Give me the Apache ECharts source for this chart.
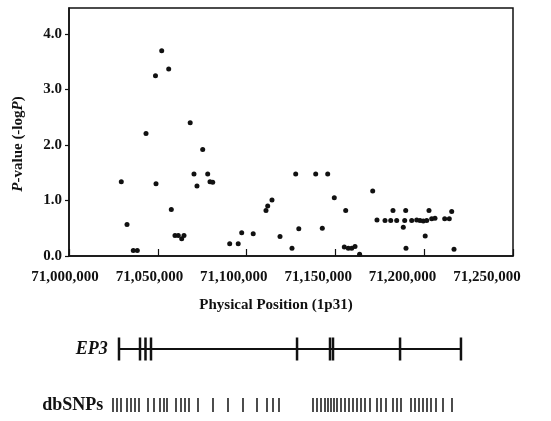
<!DOCTYPE html>
<html><head><meta charset="utf-8">
<script src="https://cdn.jsdelivr.net/npm/echarts@6/dist/echarts.min.js"></script>
<style>html,body{margin:0;padding:0;background:#fff}#c{width:551px;height:421px}</style>
</head><body><div id="c"></div>
<script>
// Physical positions (bp) of genotyped SNPs and their -log10(P)
const positions = [71029450,71032660,71036200,71038460,71043360,71048700,71052200,71048990,71056140,71057600,
  71059680,71061540,71063460,71064750,71068240,71070380,71072070,71075280,71078100,71079390,
  71080910,71090480,71095270,71097240,71103720,71110920,71111880,71114300,71118810,71125560,
  71127650,71129390,71138910,71142620,71145660,71149380,71155800,71155010,71157260,71159180,
  71161040,71163630,71171000,71173420,71177930,71181140,71182430,71184510,71188230,71189020,
  71189580,71189750,71192960,71195780,71197630,71199490,71200560,71201410,71202700,71204220,
  71206080,71211540,71214130,71215480,71216780];
const logP = [1.34,0.57,0.10,0.10,2.21,3.25,3.70,1.30,3.37,0.84,
  0.37,0.37,0.31,0.37,2.40,1.48,1.26,1.92,1.48,1.34,
  1.33,0.22,0.22,0.42,0.40,0.82,0.90,1.01,0.35,0.14,
  1.48,0.49,1.48,0.50,1.48,1.05,0.82,0.16,0.14,0.14,
  0.17,0.03,1.17,0.65,0.64,0.64,0.82,0.64,0.52,0.64,
  0.82,0.14,0.64,0.65,0.64,0.63,0.36,0.64,0.82,0.67,
  0.68,0.67,0.67,0.80,0.12];
// EP3 gene structure
const geneName = 'EP3';
const geneStart = 71028150, geneEnd = 71220700;
const exonPositions = [71028150,71039980,71043070,71046170,71128400,71146960,71148650,71186400,71220700];
// dbSNP positions
const snpLabel = 'dbSNPs';
const snpPositions = [71024775,71027027,71029279,71032657,71034910,71037162,71039414,
  71044482,71047860,71051238,71053491,71055180,71060247,71063063,71065315,71067567,
  71072635,71081081,71089527,71097972,71105855,71111486,71114864,71118242,
  71137387,71139639,71141891,71144144,71145833,71147522,71149211,71150900,
  71153153,71155405,71157657,71159909,71162161,71164414,71166666,71169481,
  71173422,71175675,71178490,71182431,71184684,71186936,
  71192567,71194819,71197071,71199323,71201575,71203828,71206643,71210584,71215652];
const xMin = 71000000, xMax = 71250000, xStep = 50000;
const yMin = 0, yMax = 4.47, yStep = 1;

const FONT = 'Liberation Serif';
const INK = '#111';
function commas(v){ return String(Math.round(v)).replace(/\B(?=(\d{3})+(?!\d))/g, ','); }

const chart = echarts.init(document.getElementById('c'), null, {renderer:'canvas'});
chart.setOption({
  animation: false,
  backgroundColor: '#fff',
  grid: [
    {left: 69, right: 38, top: 8, height: 248, show: true, borderColor: INK, borderWidth: 1.5},
    {left: 65, right: 64, top: 8, height: 248},
    {left: 69, right: 38, top: 349, height: 56}
  ],
  xAxis: [
    {gridIndex: 0, type: 'value', min: xMin, max: xMax, interval: xStep,
     axisLine: {show: true, lineStyle: {color: INK, width: 1.5}},
     axisTick: {show: true, inside: true, length: 7, lineStyle: {color: INK, width: 1.2}},
     axisLabel: {show: false}, splitLine: {show: false}},
    {gridIndex: 1, type: 'value', min: xMin, max: xMax, interval: xStep,
     axisLine: {show: false}, axisTick: {show: false}, splitLine: {show: false},
     axisLabel: {show: true, margin: 14, color: INK, fontFamily: FONT, fontWeight: 'bold', fontSize: 15,
                 formatter: commas},
     name: 'Physical Position (1p31)', nameLocation: 'middle', nameGap: 42,
     nameTextStyle: {color: INK, fontFamily: FONT, fontWeight: 'bold', fontSize: 15}},
    {gridIndex: 2, type: 'value', min: xMin, max: xMax, show: false}
  ],
  yAxis: [
    {gridIndex: 0, type: 'value', min: yMin, max: yMax, interval: yStep,
     axisLine: {show: true, lineStyle: {color: INK, width: 1.5}},
     axisTick: {show: true, inside: false, length: 4, lineStyle: {color: INK, width: 1.2}},
     splitLine: {show: false},
     axisLabel: {show: true, margin: 7, color: INK, fontFamily: FONT, fontWeight: 'bold', fontSize: 15,
                 showMaxLabel: false, formatter: v => v.toFixed(1)},
     name: '{i|P}-value (-log{i|P})', nameLocation: 'middle', nameGap: 43, nameRotate: 90,
     nameTextStyle: {color: INK, fontFamily: FONT, fontWeight: 'bold', fontSize: 15, padding: [0, 24, 0, 0],
       rich: {i: {fontFamily: FONT, fontWeight: 'bold', fontStyle: 'italic', fontSize: 15, color: INK}}}},
    {gridIndex: 1, type: 'value', min: 0, max: 1, show: false},
    {gridIndex: 2, type: 'value', min: 0, max: 1, show: false}
  ],
  series: [
    {type: 'scatter', xAxisIndex: 0, yAxisIndex: 0, symbol: 'circle', symbolSize: 5,
     itemStyle: {color: INK, opacity: 1}, data: positions.map((p, i) => [p, logP[i]])},
    {type: 'line', xAxisIndex: 2, yAxisIndex: 2, symbol: 'none', clip: false,
     lineStyle: {color: INK, width: 2}, data: [[geneStart, 1], [geneEnd, 1]]},
    {type: 'scatter', xAxisIndex: 2, yAxisIndex: 2, symbol: 'rect', symbolSize: [2.5, 23], clip: false,
     itemStyle: {color: INK, opacity: 1},
     data: exonPositions.map((p, i) => i === 0 ? {value: [p, 1], label: {show: true, position: 'left', distance: 10,
        formatter: geneName, color: INK, fontFamily: FONT, fontWeight: 'bold', fontStyle: 'italic', fontSize: 18}} : [p, 1])},
    {type: 'scatter', xAxisIndex: 2, yAxisIndex: 2, symbol: 'rect', symbolSize: [1.5, 14], clip: false,
     itemStyle: {color: INK, opacity: 1},
     data: snpPositions.map((p, i) => i === 0 ? {value: [p, 0], label: {show: true, position: 'left', distance: 9,
        formatter: snpLabel, color: INK, fontFamily: FONT, fontWeight: 'bold', fontSize: 18}} : [p, 0])}
  ]
});
</script></body></html>
